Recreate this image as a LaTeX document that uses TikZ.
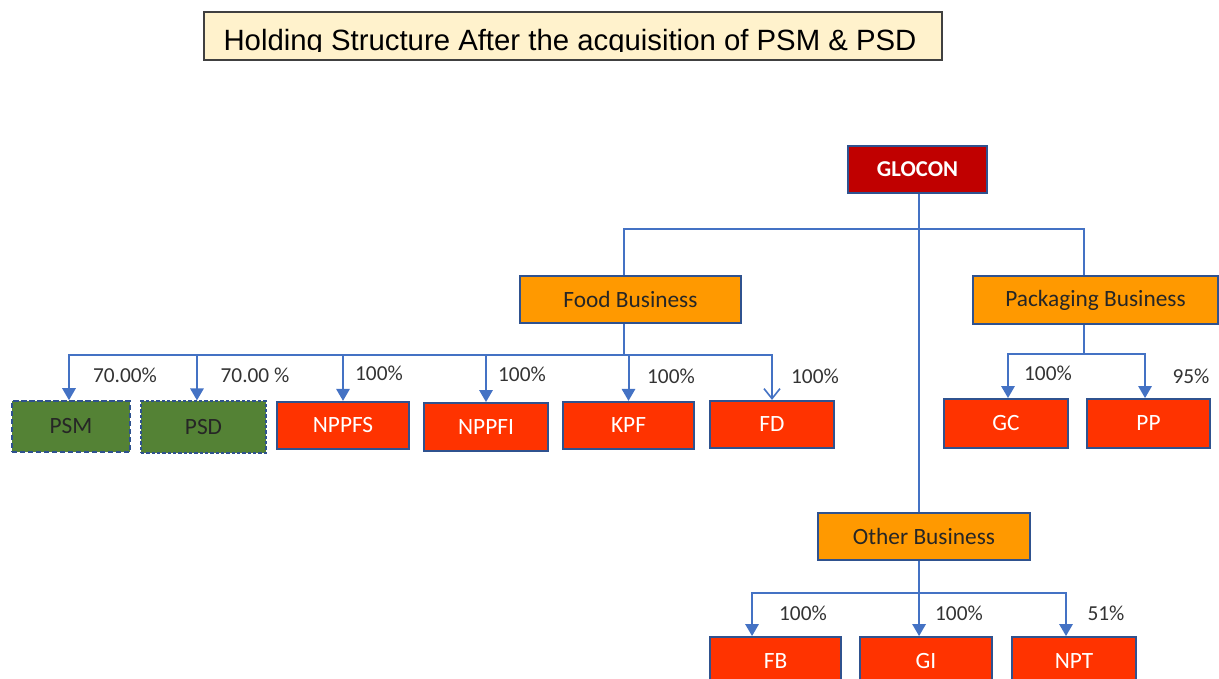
\documentclass[tikz,border=0pt]{standalone}
\usepackage{fontspec}
\setmainfont{Carlito}
\newfontfamily\headfont{Liberation Sans}
\usetikzlibrary{arrows.meta}
\definecolor{linkblue}{HTML}{4472C4}
\definecolor{edgeblue}{HTML}{2F528F}
\definecolor{topred}{HTML}{C00000}
\definecolor{divorange}{HTML}{FF9900}
\definecolor{subred}{HTML}{FF3300}
\definecolor{newgreen}{HTML}{548235}
\definecolor{titlefill}{HTML}{FFF2CC}

\tikzset{
  firm/.style={draw=edgeblue,line width=1.4pt,text=white,inner sep=0pt,
    font=\fontsize{17.5}{19}\selectfont,minimum width=93pt,minimum height=35.5pt},
  holding/.style={firm,fill=topred,font=\fontsize{17}{19}\selectfont\bfseries},
  division/.style={firm,fill=divorange,text=black!85},
  subsidiary/.style={firm,fill=subred},
  newco/.style={firm,fill=newgreen,text=black!85},
  link/.style={draw=linkblue,line width=1.5pt},
  own/.style={link,-{Triangle[width=10pt,length=9pt]}},
  stake/.style={text=black!80,font=\fontsize{16}{18}\selectfont}
}

\begin{document}
\begin{tikzpicture}[x=0.75pt,y=-0.75pt]
\path[use as bounding box,clip] (0,0) rectangle (1219,678);

\node[draw=black!75,line width=0.8pt,fill=titlefill,minimum width=553.5pt,minimum height=36pt] (title) at (573,36) {};
\begin{scope}
\clip (205,13) rectangle (941,51.5);
\node[anchor=base,inner sep=0pt,font=\headfont\fontsize{22}{24}\selectfont] (titletext) at (570,50) {Holding Structure After the acquisition of PSM \& PSD};
\end{scope}

\node[holding,minimum width=104pt] (glocon) at (917.5,169.5) {GLOCON};

\node[division,minimum width=165.75pt] (food) at (630.5,299.5) {Food Business};
\node[division,minimum width=183.75pt,minimum height=36pt] (pack) at (1095.5,300) {Packaging Business};
\node[division,minimum width=159pt] (other) at (924,536.5) {Other Business};

\node[newco,minimum width=88.5pt,minimum height=38pt,dash pattern=on 4pt off 2pt] (psm) at (71,426.5) {PSM};
\node[newco,minimum width=93.75pt,minimum height=38.5pt,dash pattern=on 2.5pt off 1.5pt] (psd) at (203.5,427) {PSD};
\node[subsidiary,minimum width=99pt] (nppfs) at (343,425.5) {NPPFS};
\node[subsidiary,minimum height=36pt] (nppfi) at (486,427) {NPPFI};
\node[subsidiary,minimum width=98.25pt] (kpf) at (628.5,425.5) {KPF};
\node[subsidiary] (fd) at (772,424.5) {FD};

\node[subsidiary,minimum height=36.75pt] (gc) at (1006,423.5) {GC};
\node[subsidiary,minimum width=92.25pt,minimum height=36.75pt] (pp) at (1148.5,423.5) {PP};

\node[subsidiary,minimum width=98.25pt,minimum height=36pt] (fb) at (775.5,661) {FB};
\node[subsidiary,minimum width=99pt,minimum height=36pt] (gi) at (926,661) {GI};
\node[subsidiary,minimum height=36pt] (npt) at (1074,661) {NPT};

\coordinate (groupbar) at (919,229);
\coordinate (foodbar) at (624,355);
\coordinate (packbar) at (1084,354);
\coordinate (otherbar) at (919,593);

\draw[link] (glocon.south -| groupbar) -- (groupbar);
\draw[link] (groupbar) -| (food.north -| foodbar);
\draw[link] (groupbar) -| (pack.north -| packbar);
\draw[link] (groupbar) -- (groupbar |- other.north);

\draw[link] (food.south -| foodbar) -- (foodbar);
\draw[own] (foodbar) -| ([xshift=-1.5pt]psm.north);
\draw[own] (foodbar) -| ([xshift=-4.9pt]psd.north);
\foreach \co in {nppfs,nppfi,kpf}
  \draw[own] (foodbar) -| (\co.north);
\draw[link,-{Straight Barb[width=12pt,length=7.5pt,line width=1.2pt]}] (foodbar) -| (fd.north);

\draw[link] (pack.south -| packbar) -- (packbar);
\draw[own] (packbar) -| ([xshift=1.5pt]gc.north);
\draw[own] (packbar) -| ([xshift=-2.6pt]pp.north);

\draw[link] (other.south -| otherbar) -- (otherbar);
\draw[own] (otherbar) -| ([xshift=-17.6pt]fb.north);
\draw[own] (otherbar) -| ([xshift=-5.2pt]gi.north);
\draw[own] (otherbar) -| ([xshift=-6pt]npt.north);

\node[stake] (psmpct) at (125,375) {70.00\%};
\node[stake] (psdpct) at (255,375) {70.00 \%};
\node[stake] (nppfspct) at (379,373) {100\%};
\node[stake] (nppfipct) at (522,374) {100\%};
\node[stake] (kpfpct) at (671,376) {100\%};
\node[stake] (fdpct) at (815,376) {100\%};
\node[stake] (gcpct) at (1048,373) {100\%};
\node[stake] (pppct) at (1191,376) {95\%};
\node[stake] (fbpct) at (803,613) {100\%};
\node[stake] (gipct) at (959,613) {100\%};
\node[stake] (nptpct) at (1106,613) {51\%};
\end{tikzpicture}
\end{document}
